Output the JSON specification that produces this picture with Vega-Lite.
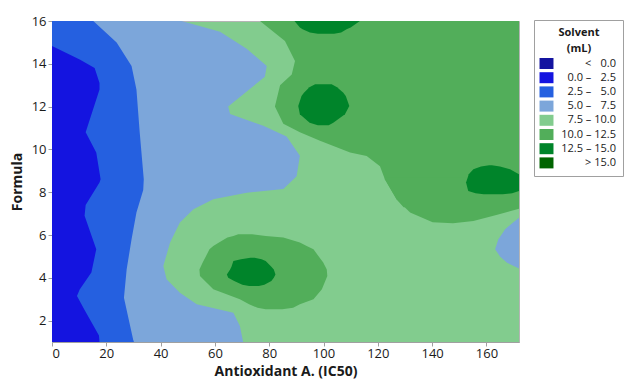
{
  "$schema": "https://vega.github.io/schema/vega-lite/v6.json",
  "width": 467,
  "height": 321,
  "autosize": {"type": "none"},
  "padding": {"left": 52, "top": 21, "right": 108, "bottom": 37},
  "background": "white",
  "config": {
    "font": "Open Sans",
    "view": {"fill": "#82cc8e", "stroke": "#b4b4b4", "strokeWidth": 1},
    "axis": {
      "labelFont": "Open Sans", "labelFontSize": 13, "labelColor": "#1a1a1a",
      "titleFont": "Open Sans", "titleFontSize": 14, "titleFontWeight": "bold", "titleColor": "#1a1a1a",
      "domainColor": "#a0a0a0", "tickColor": "#a0a0a0", "grid": false, "tickSize": 4, "labelPadding": 2
    },
    "axisX": {"titlePadding": 4, "labelPadding": 1},
    "axisY": {"titlePadding": 7}
  },
  "datasets": {
    "h": [
      {"s": "lb", "b": "3", "y": 1, "x": 0, "x2": 70.4},
      {"s": "lb", "b": "3", "y": 1.75, "x": 0, "x2": 69.2},
      {"s": "lb", "b": "3", "y": 2.37, "x": 0, "x2": 66.8},
      {"s": "lb", "b": "3", "y": 2.76, "x": 0, "x2": 53.3},
      {"s": "lb", "b": "3", "y": 3.3, "x": 0, "x2": 47.1},
      {"s": "lb", "b": "3", "y": 3.93, "x": 0, "x2": 42.2},
      {"s": "lb", "b": "3", "y": 4.55, "x": 0, "x2": 41},
      {"s": "lb", "b": "3", "y": 5.65, "x": 0, "x2": 43.5},
      {"s": "lb", "b": "3", "y": 6.58, "x": 0, "x2": 47.1},
      {"s": "lb", "b": "3", "y": 7.2, "x": 0, "x2": 52.1},
      {"s": "lb", "b": "3", "y": 7.67, "x": 0, "x2": 59.4},
      {"s": "lb", "b": "3", "y": 7.98, "x": 0, "x2": 71.7},
      {"s": "lb", "b": "3", "y": 8.15, "x": 0, "x2": 85.2},
      {"s": "lb", "b": "3", "y": 8.75, "x": 0, "x2": 90.1},
      {"s": "lb", "b": "3", "y": 9.7, "x": 0, "x2": 91.3},
      {"s": "lb", "b": "3", "y": 10.6, "x": 0, "x2": 86.4},
      {"s": "lb", "b": "3", "y": 11.1, "x": 0, "x2": 77.8},
      {"s": "lb", "b": "3", "y": 11.65, "x": 0, "x2": 65.6},
      {"s": "lb", "b": "3", "y": 12.0, "x": 0, "x2": 64.9},
      {"s": "lb", "b": "3", "y": 13.4, "x": 0, "x2": 78.4},
      {"s": "lb", "b": "3", "y": 13.9, "x": 0, "x2": 79.1},
      {"s": "lb", "b": "3", "y": 14.7, "x": 0, "x2": 71.7},
      {"s": "lb", "b": "3", "y": 15.5, "x": 0, "x2": 61.9},
      {"s": "lb", "b": "3", "y": 16, "x": 0, "x2": 47.7},

      {"s": "mb", "b": "2", "y": 1, "x": 0, "x2": 30.2},
      {"s": "mb", "b": "2", "y": 1.1, "x": 0, "x2": 29.9},
      {"s": "mb", "b": "2", "y": 3.07, "x": 0, "x2": 26.5},
      {"s": "mb", "b": "2", "y": 4.4, "x": 0, "x2": 27.5},
      {"s": "mb", "b": "2", "y": 5.8, "x": 0, "x2": 29.3},
      {"s": "mb", "b": "2", "y": 7.05, "x": 0, "x2": 31.1},
      {"s": "mb", "b": "2", "y": 8.1, "x": 0, "x2": 33.6},
      {"s": "mb", "b": "2", "y": 8.6, "x": 0, "x2": 33.8},
      {"s": "mb", "b": "2", "y": 10.8, "x": 0, "x2": 32.3},
      {"s": "mb", "b": "2", "y": 12.8, "x": 0, "x2": 31.1},
      {"s": "mb", "b": "2", "y": 13.9, "x": 0, "x2": 29.3},
      {"s": "mb", "b": "2", "y": 15, "x": 0, "x2": 23.8},
      {"s": "mb", "b": "2", "y": 16, "x": 0, "x2": 15.2},

      {"s": "db", "b": "1", "y": 1, "x": 0, "x2": 17.5},
      {"s": "db", "b": "1", "y": 1.3, "x": 0, "x2": 17.3},
      {"s": "db", "b": "1", "y": 2.5, "x": 0, "x2": 12},
      {"s": "db", "b": "1", "y": 3.15, "x": 0, "x2": 9.2},
      {"s": "db", "b": "1", "y": 3.45, "x": 0, "x2": 10.2},
      {"s": "db", "b": "1", "y": 4.25, "x": 0, "x2": 14.5},
      {"s": "db", "b": "1", "y": 5.33, "x": 0, "x2": 16.3},
      {"s": "db", "b": "1", "y": 6.9, "x": 0, "x2": 12},
      {"s": "db", "b": "1", "y": 7.4, "x": 0, "x2": 12.4},
      {"s": "db", "b": "1", "y": 8.45, "x": 0, "x2": 17.5},
      {"s": "db", "b": "1", "y": 8.6, "x": 0, "x2": 17.9},
      {"s": "db", "b": "1", "y": 9.85, "x": 0, "x2": 16.3},
      {"s": "db", "b": "1", "y": 10.8, "x": 0, "x2": 12.4},
      {"s": "db", "b": "1", "y": 12.8, "x": 0, "x2": 17.5},
      {"s": "db", "b": "1", "y": 13.1, "x": 0, "x2": 17.5},
      {"s": "db", "b": "1", "y": 13.8, "x": 0, "x2": 15.7},
      {"s": "db", "b": "1", "y": 14.2, "x": 0, "x2": 10.2},
      {"s": "db", "b": "1", "y": 14.83, "x": 0, "x2": 0},

      {"s": "gt", "b": "5", "y": 7.3, "x": 129.5, "x2": 172},
      {"s": "gt", "b": "5", "y": 7.67, "x": 126.9, "x2": 172},
      {"s": "gt", "b": "5", "y": 8.6, "x": 122.6, "x2": 172},
      {"s": "gt", "b": "5", "y": 9.21, "x": 120.8, "x2": 172},
      {"s": "gt", "b": "5", "y": 9.69, "x": 115.9, "x2": 172},
      {"s": "gt", "b": "5", "y": 9.85, "x": 109.8, "x2": 172},
      {"s": "gt", "b": "5", "y": 10.4, "x": 98.7, "x2": 172},
      {"s": "gt", "b": "5", "y": 10.8, "x": 91.3, "x2": 172},
      {"s": "gt", "b": "5", "y": 11.2, "x": 85.2, "x2": 172},
      {"s": "gt", "b": "5", "y": 12, "x": 82.1, "x2": 172},
      {"s": "gt", "b": "5", "y": 13, "x": 84, "x2": 172},
      {"s": "gt", "b": "5", "y": 13.5, "x": 88.3, "x2": 172},
      {"s": "gt", "b": "5", "y": 14.13, "x": 89.5, "x2": 172},
      {"s": "gt", "b": "5", "y": 15.07, "x": 85.8, "x2": 172},
      {"s": "gt", "b": "5", "y": 16, "x": 76.6, "x2": 172},

      {"s": "gb", "b": "5", "y": 2.53, "x": 78.7, "x2": 84.8},
      {"s": "gb", "b": "5", "y": 2.6, "x": 75.7, "x2": 88.8},
      {"s": "gb", "b": "5", "y": 2.76, "x": 72.6, "x2": 91.3},
      {"s": "gb", "b": "5", "y": 3.0, "x": 69.2, "x2": 96.3},
      {"s": "gb", "b": "5", "y": 3.46, "x": 59.4, "x2": 99.4},
      {"s": "gb", "b": "5", "y": 4.08, "x": 54.5, "x2": 101.4},
      {"s": "gb", "b": "5", "y": 4.39, "x": 54.3, "x2": 101.2},
      {"s": "gb", "b": "5", "y": 4.71, "x": 55.5, "x2": 99.9},
      {"s": "gb", "b": "5", "y": 5.33, "x": 58, "x2": 96.3},
      {"s": "gb", "b": "5", "y": 5.49, "x": 59.4, "x2": 93.8},
      {"s": "gb", "b": "5", "y": 5.65, "x": 61.5, "x2": 91.3},
      {"s": "gb", "b": "5", "y": 5.88, "x": 64.6, "x2": 85.2},
      {"s": "gb", "b": "5", "y": 5.95, "x": 66.8, "x2": 78.7},
      {"s": "gb", "b": "5", "y": 6.03, "x": 68.6, "x2": 73.7},

      {"s": "dgb", "b": "6", "y": 3.62, "x": 72.6, "x2": 76.2},
      {"s": "dgb", "b": "6", "y": 3.68, "x": 70.1, "x2": 78.2},
      {"s": "dgb", "b": "6", "y": 3.85, "x": 67.1, "x2": 80.8},
      {"s": "dgb", "b": "6", "y": 4.0, "x": 64.9, "x2": 81.7},
      {"s": "dgb", "b": "6", "y": 4.16, "x": 64.4, "x2": 82.3},
      {"s": "dgb", "b": "6", "y": 4.39, "x": 65.6, "x2": 81.7},
      {"s": "dgb", "b": "6", "y": 4.52, "x": 66.1, "x2": 80.8},
      {"s": "dgb", "b": "6", "y": 4.79, "x": 66.8, "x2": 78.7},
      {"s": "dgb", "b": "6", "y": 4.87, "x": 69.6, "x2": 77.2},
      {"s": "dgb", "b": "6", "y": 4.94, "x": 73.1, "x2": 74.6},

      {"s": "dgm", "b": "6", "y": 11.13, "x": 97.9, "x2": 101.9},
      {"s": "dgm", "b": "6", "y": 11.25, "x": 94.9, "x2": 103.6},
      {"s": "dgm", "b": "6", "y": 11.64, "x": 91.3, "x2": 107.9},
      {"s": "dgm", "b": "6", "y": 12.03, "x": 90.7, "x2": 109.5},
      {"s": "dgm", "b": "6", "y": 12.5, "x": 91.9, "x2": 108.2},
      {"s": "dgm", "b": "6", "y": 12.65, "x": 92.8, "x2": 107.3},
      {"s": "dgm", "b": "6", "y": 12.9, "x": 94.8, "x2": 105},
      {"s": "dgm", "b": "6", "y": 13.05, "x": 96.9, "x2": 103},

      {"s": "dgt", "b": "6", "y": 15.41, "x": 97.9, "x2": 103.9},
      {"s": "dgt", "b": "6", "y": 15.46, "x": 95, "x2": 106.5},
      {"s": "dgt", "b": "6", "y": 15.61, "x": 92.3, "x2": 108.5},
      {"s": "dgt", "b": "6", "y": 15.7, "x": 91.3, "x2": 110},
      {"s": "dgt", "b": "6", "y": 16, "x": 89.3, "x2": 113.4},

      {"s": "dgr", "b": "6", "y": 7.9, "x": 159, "x2": 166},
      {"s": "dgr", "b": "6", "y": 7.95, "x": 156, "x2": 169.5},
      {"s": "dgr", "b": "6", "y": 8.06, "x": 153.3, "x2": 172},
      {"s": "dgr", "b": "6", "y": 8.45, "x": 152.5, "x2": 172},
      {"s": "dgr", "b": "6", "y": 8.84, "x": 153.5, "x2": 172},
      {"s": "dgr", "b": "6", "y": 9.07, "x": 155.2, "x2": 168.7},
      {"s": "dgr", "b": "6", "y": 9.2, "x": 158, "x2": 165},
      {"s": "dgr", "b": "6", "y": 9.26, "x": 161, "x2": 162},

      {"s": "lbr", "b": "3", "y": 4.43, "x": 172, "x2": 172},
      {"s": "lbr", "b": "3", "y": 4.71, "x": 167.5, "x2": 172},
      {"s": "lbr", "b": "3", "y": 5.0, "x": 165, "x2": 172},
      {"s": "lbr", "b": "3", "y": 5.33, "x": 163.2, "x2": 172},
      {"s": "lbr", "b": "3", "y": 5.8, "x": 164.4, "x2": 172},
      {"s": "lbr", "b": "3", "y": 6.27, "x": 166.9, "x2": 172},
      {"s": "lbr", "b": "3", "y": 6.55, "x": 169.5, "x2": 172},
      {"s": "lbr", "b": "3", "y": 6.81, "x": 172, "x2": 172}
    ],
    "v": [
      {"b": "5", "x": 122.6, "y": 8.6, "y2": 8.7},
      {"b": "5", "x": 126.9, "y": 7.67, "y2": 8.7},
      {"b": "5", "x": 131.9, "y": 7.05, "y2": 8.7},
      {"b": "5", "x": 140.2, "y": 6.6, "y2": 8.7},
      {"b": "5", "x": 147.7, "y": 6.55, "y2": 8.7},
      {"b": "5", "x": 155.2, "y": 6.65, "y2": 8.7},
      {"b": "5", "x": 164, "y": 6.95, "y2": 8.7},
      {"b": "5", "x": 172, "y": 7.23, "y2": 8.7}
    ]
  },
  "layer": [
    {
      "data": {"name": "h"},
      "transform": [{"filter": "datum.s === 'lb'"}],
      "mark": {"type": "area", "orient": "horizontal", "clip": true},
      "encoding": {
        "y": {"field": "y", "type": "quantitative", "scale": {"domain": [1, 16], "nice": false, "zero": false}, "axis": {"values": [2, 4, 6, 8, 10, 12, 14, 16], "title": "Formula"}},
        "x": {"field": "x", "type": "quantitative", "stack": null, "scale": {"domain": [0, 172], "nice": false, "zero": false}, "axis": {"values": [0, 20, 40, 60, 80, 100, 120, 140, 160], "title": "Antioxidant A. (IC50)"}},
        "x2": {"field": "x2"},
        "color": {
          "field": "b", "type": "nominal",
          "scale": {"domain": ["0", "1", "2", "3", "4", "5", "6", "7"], "range": ["#1414a0", "#1414e0", "#2560e0", "#7ca6da", "#82cc8e", "#52ae5a", "#00842a", "#006400"]},
          "legend": {
            "orient": "none", "legendX": 482, "legendY": -1,
            "title": ["Solvent", "(mL)"],
            "titleFontSize": 11, "titleFontWeight": "bold", "titleColor": "#1a1a1a",
            "titleAnchor": "middle", "titleAlign": "center", "titleLineHeight": 16, "titlePadding": 4,
            "labelFontSize": 11, "labelColor": "#1a1a1a", "labelAlign": "right", "labelOffset": 64,
            "labelExpr": "['<  \u20070.0', '0.0 – \u20072.5', '2.5 – \u20075.0', '5.0 – \u20077.5', '7.5 – 10.0', '10.0 – 12.5', '12.5 – 15.0', '> 15.0'][toNumber(datum.label)]",
            "symbolType": "M-1.27,-1H1.27V1H-1.27Z", "symbolSize": 121, "symbolStrokeWidth": 0, "symbolOpacity": 1,
            "rowPadding": 2.2, "padding": 7, "strokeColor": "#a0a0a0", "fillColor": "white"
          }
        }
      }
    },
    {
      "data": {"name": "h"},
      "transform": [{"filter": "datum.s === 'mb'"}],
      "mark": {"type": "area", "orient": "horizontal", "clip": true},
      "encoding": {
        "y": {"field": "y", "type": "quantitative"},
        "x": {"field": "x", "type": "quantitative", "stack": null},
        "x2": {"field": "x2"},
        "color": {"field": "b", "type": "nominal"}
      }
    },
    {
      "data": {"name": "h"},
      "transform": [{"filter": "datum.s === 'db'"}],
      "mark": {"type": "area", "orient": "horizontal", "clip": true},
      "encoding": {
        "y": {"field": "y", "type": "quantitative"},
        "x": {"field": "x", "type": "quantitative", "stack": null},
        "x2": {"field": "x2"},
        "color": {"field": "b", "type": "nominal"}
      }
    },
    {
      "data": {"name": "h"},
      "transform": [{"filter": "datum.s === 'gt'"}],
      "mark": {"type": "area", "orient": "horizontal", "clip": true},
      "encoding": {
        "y": {"field": "y", "type": "quantitative"},
        "x": {"field": "x", "type": "quantitative", "stack": null},
        "x2": {"field": "x2"},
        "color": {"field": "b", "type": "nominal"}
      }
    },
    {
      "data": {"name": "v"},
      "mark": {"type": "area", "orient": "vertical", "clip": true},
      "encoding": {
        "x": {"field": "x", "type": "quantitative"},
        "y": {"field": "y", "type": "quantitative", "stack": null},
        "y2": {"field": "y2"},
        "color": {"field": "b", "type": "nominal"}
      }
    },
    {
      "data": {"name": "h"},
      "transform": [{"filter": "datum.s === 'gb'"}],
      "mark": {"type": "area", "orient": "horizontal", "clip": true},
      "encoding": {
        "y": {"field": "y", "type": "quantitative"},
        "x": {"field": "x", "type": "quantitative", "stack": null},
        "x2": {"field": "x2"},
        "color": {"field": "b", "type": "nominal"}
      }
    },
    {
      "data": {"name": "h"},
      "transform": [{"filter": "datum.s === 'dgb' || datum.s === 'dgm' || datum.s === 'dgt' || datum.s === 'dgr' || datum.s === 'lbr'"}],
      "mark": {"type": "area", "orient": "horizontal", "clip": true},
      "encoding": {
        "y": {"field": "y", "type": "quantitative"},
        "x": {"field": "x", "type": "quantitative", "stack": null},
        "x2": {"field": "x2"},
        "color": {"field": "b", "type": "nominal"},
        "detail": {"field": "s", "type": "nominal"}
      }
    }
  ]
}
